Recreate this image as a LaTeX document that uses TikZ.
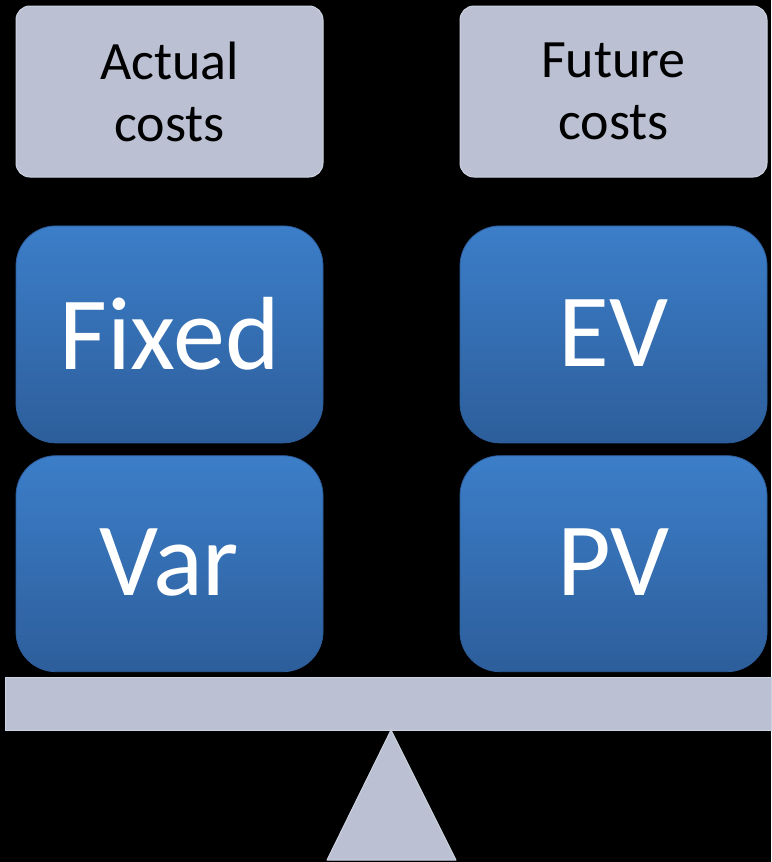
\documentclass[tikz,border=0pt]{standalone}
\usepackage{fontspec}
\setmainfont{Carlito}
\usetikzlibrary{positioning}
\definecolor{slate}{RGB}{187,193,210}
\definecolor{slateedge}{RGB}{205,211,226}
\definecolor{bluetop}{RGB}{60,126,201}
\definecolor{bluebot}{RGB}{45,94,155}
\tikzset{
  gb/.style={rectangle, rounded corners=14pt, minimum width=307pt, minimum height=171pt, inner sep=0pt, text centered, align=center, draw=slateedge, line width=1pt, fill=slate, font=\fontsize{54}{62}\selectfont},
  bb/.style={rectangle, rounded corners=40pt, minimum width=307pt, minimum height=216pt, inner sep=0pt, text centered, draw=bluebot, line width=0.8pt, top color=bluetop, bottom color=bluebot, text=white, font=\fontsize{104}{110}\selectfont},
  beam/.style={rectangle, minimum width=766pt, minimum height=53pt, inner sep=0pt, draw=slateedge, line width=1pt, fill=slate}
}

\begin{document}
\begin{tikzpicture}[x=1pt, y=-1pt, node distance=136pt]
	\fill[black] (0,0) rectangle (771,862);
	\useasboundingbox (0,0) rectangle (771,862);

	\node[gb] (act) at (169.5,91.5) {\raisebox{2pt}{\parbox{300pt}{\centering Actual\\costs}}};
	\node[gb, right=of act] (fut) {\raisebox{2pt}{\parbox{300pt}{\centering Future\\costs}}};
	\node[bb, minimum height=217pt, below=48pt of act] (fix) {\raisebox{3pt}{Fixed}};
	\node[bb, below=12pt of fix] (var) {\raisebox{3pt}{Var}};
	\node[bb, minimum height=217pt, below=48pt of fut] (ev) {\raisebox{3pt}{EV}};
	\node[bb, below=12pt of ev] (pv) {\raisebox{3pt}{PV}};

	% the balance
	\node[beam] (bar) at (388,703.5) {};
	\coordinate (tip) at (391,730);
	\coordinate (foot l) at (327,860);
	\coordinate (foot r) at (456,860);
	\draw[slateedge, fill=slate, line width=1pt, line join=round] (foot l) -- (tip) -- (foot r) -- cycle;
\end{tikzpicture}
\end{document}
